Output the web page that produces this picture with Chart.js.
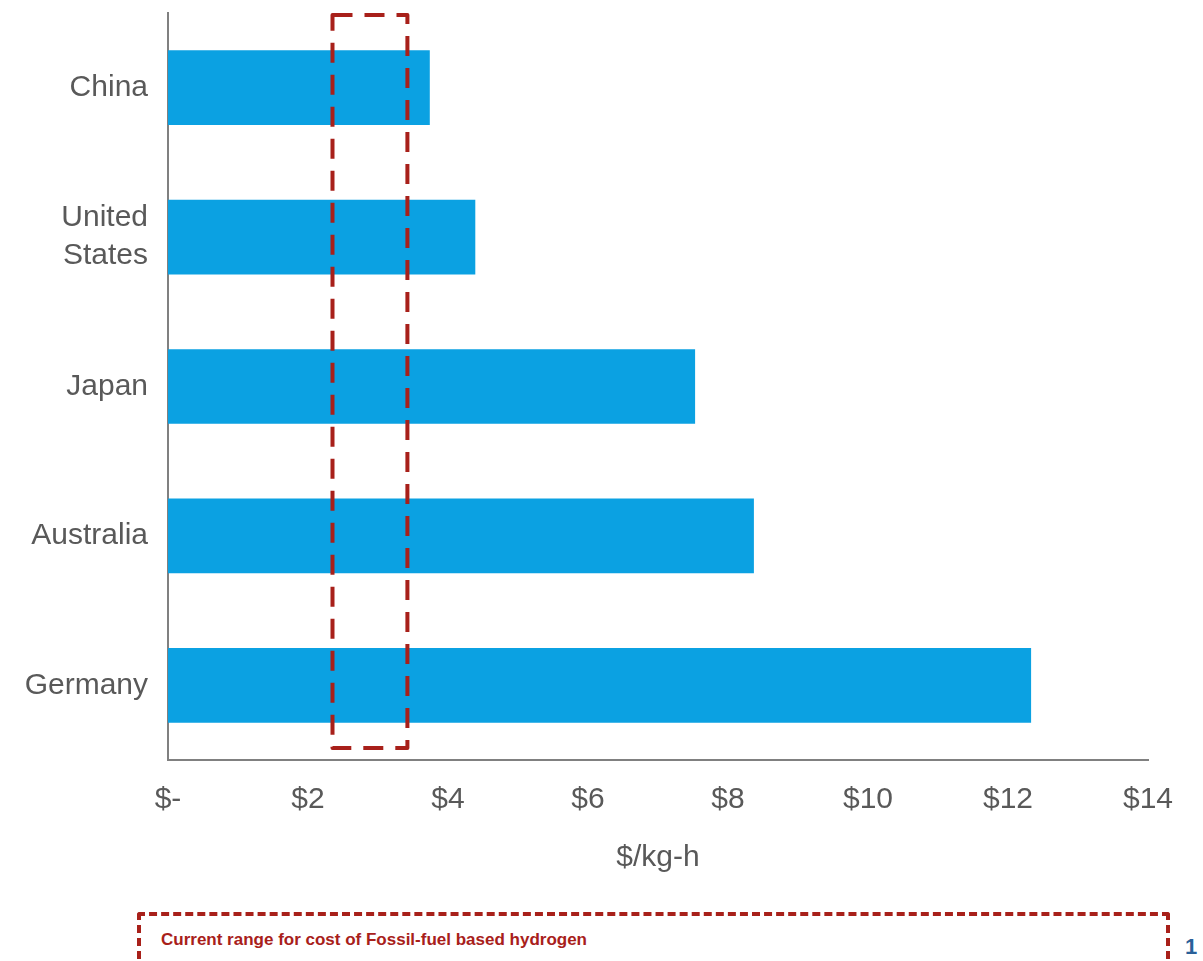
<!DOCTYPE html>
<html>
<head>
<meta charset="utf-8">
<script src="https://cdn.jsdelivr.net/npm/chart.js@4"></script>
<style>
  html, body { margin:0; padding:0; background:#fff; overflow:hidden; }
  body { width:1203px; height:961px; position:relative; font-family:'Liberation Sans', Arial, sans-serif; }
  #wrap { position:absolute; left:0; top:0; width:1203px; height:890px; }
  #legendBox { position:absolute; left:137px; top:912px; width:1033px; height:60px; border:4px dashed #A8201A; border-radius:3px; box-sizing:border-box; }
  #legendBox span { position:absolute; left:20px; top:14px; font-size:17px; font-weight:bold; color:#A8201A; }
  #note { position:absolute; left:1185px; top:934px; font-size:22px; font-weight:bold; color:#2A6099; }
</style>
</head>
<body>
<div id="wrap"><canvas id="chart"></canvas></div>
<div id="legendBox"><span>Current range for cost of Fossil-fuel based hydrogen</span></div>
<div id="note">1</div>
<script>
/* ── Data ── */
const countries = [['China'], ['United', 'States'], ['Japan'], ['Australia'], ['Germany']];
const costs = [3.74, 4.39, 7.53, 8.37, 12.33];
const fossilRange = [2.35, 3.42];
const xTicks = [0, 2, 4, 6, 8, 10, 12, 14];

/* ── Dashed fossil-fuel range box ── */
const rangeBox = {
  id: 'rangeBox',
  afterDatasetsDraw(chart) {
    const { ctx, chartArea, scales } = chart;
    const x0 = scales.x.getPixelForValue(fossilRange[0]);
    const x1 = scales.x.getPixelForValue(fossilRange[1]);
    const y0 = chartArea.top + 2;
    const y1 = chartArea.bottom - 12;
    ctx.save();
    ctx.strokeStyle = '#A8201A';
    ctx.lineWidth = 4;
    ctx.setLineDash([20, 12]);
    ctx.lineJoin = 'round';
    ctx.strokeRect(x0, y0, x1 - x0, y1 - y0);
    ctx.restore();
  }
};

new Chart(document.getElementById('chart'), {
  type: 'bar',
  data: {
    labels: countries,
    datasets: [{ data: costs, backgroundColor: '#0BA1E2', borderWidth: 0, barPercentage: 0.5, categoryPercentage: 1 }]
  },
  options: {
    indexAxis: 'y',
    responsive: true,
    maintainAspectRatio: false,
    animation: false,
    layout: { padding: { top: 13, right: 55, left: 0, bottom: 0 } },
    plugins: { legend: { display: false }, tooltip: { enabled: false } },
    scales: {
      y: {
        grid: { display: false, drawTicks: false },
        border: { display: true, color: '#808080', width: 2 },
        ticks: { font: { family: 'Liberation Sans', size: 30, lineHeight: 1.27 }, color: '#595959', padding: 20 },
        afterFit: s => { s.width = 168; s.paddingTop = 0; s.paddingBottom = 0; }
      },
      x: {
        min: 0, max: 14,
        afterBuildTicks: s => { s.ticks = xTicks.map(v => ({ value: v })); },
        grid: { display: false, drawTicks: false },
        border: { display: true, color: '#808080', width: 2 },
        ticks: {
          font: { family: 'Liberation Sans', size: 30 }, color: '#595959', padding: 22,
          callback: v => v === 0 ? '$-' : '$' + v
        },
        title: { display: true, text: '$/kg-h', font: { family: 'Liberation Sans', size: 30 }, color: '#595959', padding: { top: 0, bottom: 14 } },
        afterFit: s => { s.height = 130; }
      }
    }
  },
  plugins: [rangeBox]
});
</script>
</body>
</html>
